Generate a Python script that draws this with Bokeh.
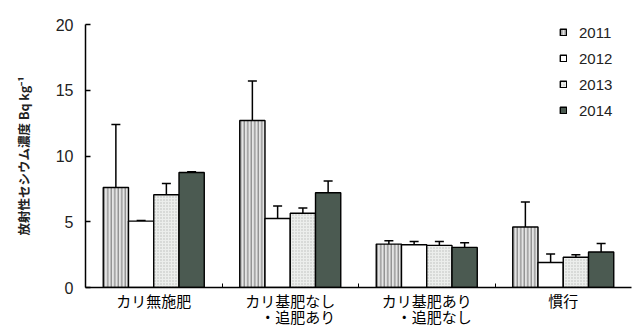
import numpy as np
from bokeh.plotting import figure
from bokeh.models import (ColumnDataSource, Range1d, FixedTicker, Whisker, TeeHead,
                          Legend, LegendItem)
from bokeh.embed import file_html
from bokeh.resources import INLINE

categories = ["カリ無施肥", "カリ基肥なし\n　・追肥あり", "カリ基肥あり\n　・追肥なし", "慣行"]
years = ["2011", "2012", "2013", "2014"]
means = {
    "2011": [7.6, 12.7, 3.3, 4.6],
    "2012": [5.05, 5.25, 3.25, 1.9],
    "2013": [7.05, 5.65, 3.2, 2.3],
    "2014": [8.75, 7.2, 3.05, 2.7],
}
upper = {
    "2011": [12.4, 15.7, 3.55, 6.5],
    "2012": [5.1, 6.2, 3.5, 2.55],
    "2013": [7.9, 6.05, 3.5, 2.5],
    "2014": [8.8, 8.1, 3.4, 3.35],
}
y_ticks = [0, 5, 10, 15, 20]

styles = {
    "2011": dict(fill_color="#e4e4e4", hatch_pattern="|", hatch_color="#707070", hatch_scale=3.5, hatch_weight=1),
    "2012": dict(fill_color="#ffffff"),
    "2013": dict(fill_color="#eceeec", hatch_pattern=".", hatch_color="#b8bab8", hatch_scale=3),
    "2014": dict(fill_color="#4b5a51"),
}

p = figure(frame_width=546, frame_height=263, output_backend="svg", toolbar_location=None,
           x_range=Range1d(0.5, 4.5), y_range=Range1d(0, 20),
           min_border_left=85, min_border_right=4, min_border_top=24, min_border_bottom=0)
p.outline_line_color = None
p.grid.visible = False

bw = 0.185
offsets = [-1.5 * bw, -0.5 * bw, 0.5 * bw, 1.5 * bw]
xs = np.arange(1, len(categories) + 1)
items = []
for yr, off in zip(years, offsets):
    src = ColumnDataSource(dict(x=xs + off, top=means[yr], up=upper[yr]))
    r = p.vbar(x="x", top="top", width=bw, source=src, line_color="black", line_width=1.4, **styles[yr])
    items.append(LegendItem(label=yr, renderers=[r]))
    w = Whisker(base="x", upper="up", lower="top", source=src, line_color="black", line_width=1.5,
                upper_head=TeeHead(size=9, line_color="black", line_width=1.5), lower_head=None)
    p.add_layout(w)

font_jp = "Noto Sans CJK JP"
# x axis
p.xaxis.ticker = FixedTicker(ticks=list(xs), minor_ticks=list(xs[:-1] + 0.5))
p.xaxis.major_label_overrides = {int(i): c for i, c in zip(xs, categories)}
p.xaxis.major_tick_in = 0
p.xaxis.major_tick_out = 0
p.xaxis.minor_tick_in = 4
p.xaxis.minor_tick_out = 0
p.xaxis.minor_tick_line_color = "black"
p.xaxis.axis_line_color = "black"
p.xaxis.axis_line_width = 1.5
p.xaxis.major_label_text_font = font_jp
p.xaxis.major_label_text_font_size = "15px"
p.xaxis.major_label_text_color = "black"
p.xaxis.major_label_text_line_height = 0.8
p.xaxis.major_label_standoff = 2

# y axis
p.yaxis.ticker = FixedTicker(ticks=y_ticks)
p.yaxis.minor_tick_line_color = None
p.yaxis.major_tick_in = 5
p.yaxis.major_tick_out = 0
p.yaxis.major_tick_line_color = "black"
p.yaxis.major_tick_line_width = 1.3
p.yaxis.axis_line_color = "black"
p.yaxis.axis_line_width = 1.5
p.yaxis.major_label_text_font = "Liberation Sans"
p.yaxis.major_label_text_font_size = "16px"
p.yaxis.major_label_text_color = "#222222"
p.yaxis.major_label_standoff = 12
p.yaxis.axis_label = "放射性セシウム濃度 Bq kg⁻¹"
p.yaxis.axis_label_text_font = font_jp
p.yaxis.axis_label_text_font_size = "12.5px"
p.yaxis.axis_label_text_font_style = "bold"
p.yaxis.axis_label_text_color = "#222222"
p.yaxis.axis_label_standoff = 20

legend = Legend(items=items, location=(474, 167), orientation="vertical",
                border_line_color=None, background_fill_alpha=0,
                glyph_width=8, glyph_height=8, label_height=20, spacing=6,
                label_standoff=12, padding=0, margin=0,
                label_text_font="Liberation Sans", label_text_font_size="15px",
                label_text_color="#222222")
p.add_layout(legend)

open("out.html", "w").write(file_html(p, INLINE))
